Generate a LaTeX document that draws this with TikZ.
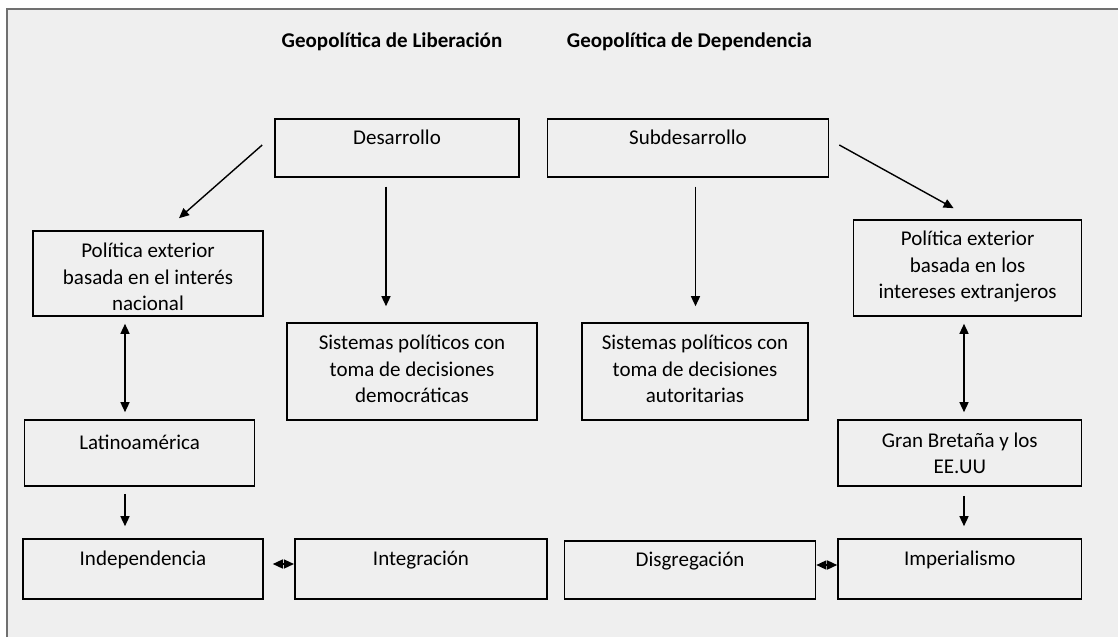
\documentclass[tikz,border=0pt]{standalone}
\usepackage{fontspec}
\setmainfont{Carlito}
\usetikzlibrary{arrows.meta}
\definecolor{geobg}{RGB}{239,239,239}
\definecolor{geoframe}{RGB}{112,112,112}

\begin{document}
\begin{tikzpicture}[
  x=1pt, y=-1pt,
  every node/.style={font=\fontsize{21}{26.5}\selectfont},
  box/.style={draw, line width=1.6pt, inner sep=0pt, align=center},
  topbox/.style={box, text height=15pt, text depth=22pt},
  multibox/.style 2 args={box, text height=#1, text depth=#2},
  head/.style={font=\fontsize{21}{26.5}\selectfont\bfseries},
  arr/.style={-{Triangle[length=10pt,width=9pt]}, line width=1.4pt},
  dbl/.style={{Triangle[length=10pt,width=9pt]}-{Triangle[length=10pt,width=9pt]}, line width=1.4pt}
]
\useasboundingbox (0,0) rectangle (1118,637);
\fill[geobg] (7,9) rectangle (1118,637);
\draw[geoframe, line width=1.5pt] (7,637) -- (7,9) -- (1118,9);

% titles
\node[head] (libt) at (392,42) {Geopolítica de Liberación};
\node[head] (dept) at (689.5,42) {Geopolítica de Dependencia};

% top row
\node[topbox, minimum width=244pt, minimum height=57.5pt] (des) at (397,148) {Desarrollo};
\node[topbox, minimum width=281pt, minimum height=57.5pt] (sub) at (688,148) {Subdesarrollo};

% second row
\node[multibox={74pt}{0pt}, minimum width=230pt, minimum height=85pt] (polL) at (148,273.5) {Política exterior\\basada en el interés\\nacional};
\node[multibox={66pt}{5pt}, minimum width=228pt, minimum height=96pt] (polR) at (967.6,268) {Política exterior\\basada en los\\intereses extranjeros};
\node[multibox={67pt}{5pt}, minimum width=250.5pt, minimum height=97pt] (demo) at (412,371.5) {Sistemas políticos con\\toma de decisiones\\democráticas};
\node[multibox={67pt}{5pt}, minimum width=226pt, minimum height=97pt] (auto) at (695,371.5) {Sistemas políticos con\\toma de decisiones\\autoritarias};

% third row
\node[topbox, minimum width=230pt, minimum height=66pt] (lat) at (139.6,453) {Latinoamérica};
\node[multibox={42pt}{1pt}, minimum width=243.6pt, minimum height=66pt] (gb) at (959.8,453) {Gran Bretaña y los\\EE.UU};

% bottom row
\node[topbox, minimum width=240pt, minimum height=60pt] (ind) at (143,569) {Independencia};
\node[topbox, minimum width=252.5pt, minimum height=60pt] (int) at (421,569) {Integración};
\node[topbox, minimum width=251pt, minimum height=58pt] (dis) at (690,570) {Disgregación};
\node[topbox, minimum width=243.6pt, minimum height=60pt] (imp) at (959.8,569) {Imperialismo};

% connectors
\draw[arr] ([xshift=-12pt,yshift=3pt]des.west) -- ([xshift=31pt,yshift=12pt]polL.north);
\draw[arr] ([xshift=-11pt,yshift=-9pt]des.south) -- ([xshift=-26pt,yshift=16pt]demo.north);
\draw[arr] ([xshift=7.5pt,yshift=-9pt]sub.south) -- ([xshift=0.5pt,yshift=16pt]auto.north);
\draw[arr] ([xshift=10pt,yshift=3pt]sub.east) -- ([xshift=-14pt,yshift=11pt]polR.north);
\draw[dbl] ([xshift=-23pt,yshift=-7pt]polL.south) -- ([xshift=-14.6pt,yshift=7pt]lat.north);
\draw[dbl] ([xshift=-3.6pt,yshift=-7pt]polR.south) -- ([xshift=4.2pt,yshift=7pt]gb.north);
\draw[arr] ([xshift=-14.6pt,yshift=-7pt]lat.south) -- ([xshift=-18pt,yshift=12pt]ind.north);
\draw[arr] ([xshift=4.2pt,yshift=-9pt]gb.south) -- ([xshift=4.2pt,yshift=12pt]imp.north);
\draw[dbl] ([xshift=9pt,yshift=5pt]ind.east) -- ([yshift=5pt]int.west);
\draw[dbl] ([yshift=5pt]dis.east) -- ([yshift=5pt]dis.east -| imp.west);
\end{tikzpicture}
\end{document}
